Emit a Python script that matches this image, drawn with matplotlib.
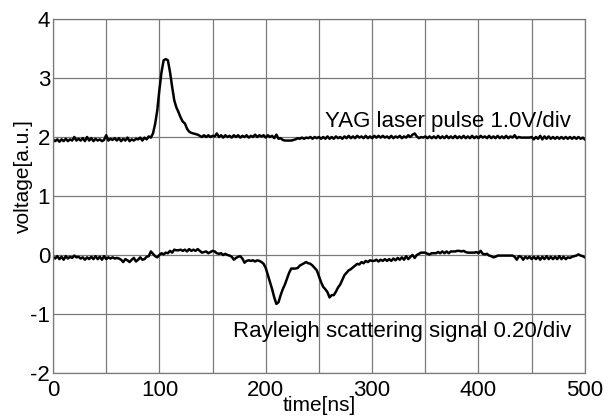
import numpy as np
import matplotlib
matplotlib.use("Agg")
import matplotlib.pyplot as plt
from matplotlib.ticker import MultipleLocator

plt.rcParams['font.family'] = ['Liberation Sans', 'DejaVu Sans']
plt.rcParams['axes.unicode_minus'] = False

# time axis in ns, sampled every 2 ns
t_start, t_stop, t_step = 0, 500, 2

# YAG laser pulse trace (offset +2)
yag = [
    1.96, 1.93, 1.96, 1.92, 1.96, 1.93, 1.97, 1.93, 1.96, 1.94,  # 0-18
    2.00, 1.94, 1.97, 1.94, 1.98, 1.93, 2.00, 1.94, 1.98, 1.93,  # 20-38
    1.97, 1.94, 1.96, 1.93, 1.95, 2.03, 1.94, 1.97, 1.95, 1.98,  # 40-58
    1.94, 1.98, 1.93, 1.97, 1.94, 1.99, 1.93, 1.96, 1.94, 1.97,  # 60-78
    1.96, 1.99, 1.94, 1.99, 1.96, 2.01, 1.99, 2.06, 2.22, 2.45,  # 80-98
    2.80, 3.10, 3.30, 3.32, 3.30, 3.10, 2.85, 2.62, 2.50, 2.42,  # 100-118
    2.33, 2.26, 2.23, 2.14, 2.09, 2.07, 2.06, 2.05, 2.04, 2.02,  # 120-138
    2.00, 2.03, 2.00, 2.03, 2.00, 2.02, 2.01, 2.06, 2.00, 2.03,  # 140-158
    1.99, 2.03, 2.00, 2.02, 1.99, 2.03, 2.00, 2.03, 1.99, 2.02,  # 160-178
    2.00, 2.03, 1.99, 2.02, 2.00, 2.04, 2.00, 2.03, 2.01, 2.03,  # 180-198
    1.99, 2.03, 2.00, 2.02, 1.98, 2.04, 1.97, 1.98, 1.95, 1.94,  # 200-218
    1.94, 1.94, 1.94, 1.95, 1.96, 1.98, 1.97, 1.99, 1.97, 1.99,  # 220-238
    1.98, 2.00, 1.97, 2.00, 1.98, 2.00, 1.97, 2.00, 1.97, 2.01,  # 240-258
    1.97, 2.00, 1.97, 2.01, 1.98, 2.00, 1.97, 2.01, 1.98, 2.02,  # 260-278
    1.98, 2.01, 1.98, 2.02, 1.99, 2.01, 1.98, 2.02, 1.98, 2.01,  # 280-298
    1.98, 2.02, 1.99, 2.02, 1.99, 2.02, 1.99, 2.01, 1.98, 2.02,  # 300-318
    1.98, 2.01, 1.99, 2.02, 1.98, 2.01, 1.99, 2.03, 2.00, 2.04,  # 320-338
    2.06, 2.01, 1.98, 2.00, 1.99, 2.01, 1.98, 2.01, 1.98, 2.01,  # 340-358
    1.98, 2.02, 1.98, 2.01, 1.98, 2.02, 1.98, 2.01, 1.98, 2.02,  # 360-378
    1.98, 2.01, 1.98, 2.02, 1.98, 2.01, 1.98, 2.02, 1.98, 2.01,  # 380-398
    1.98, 2.02, 1.99, 2.01, 1.98, 2.02, 1.98, 2.01, 1.98, 2.02,  # 400-418
    1.98, 2.01, 1.98, 2.02, 1.98, 2.01, 1.99, 2.03, 1.98, 2.00,  # 420-438
    1.99, 1.99, 1.99, 1.99, 1.99, 2.00, 1.96, 2.00, 1.97, 2.02,  # 440-458
    1.96, 2.01, 1.97, 2.01, 1.97, 2.00, 1.97, 2.00, 1.97, 2.00,  # 460-478
    1.97, 2.00, 1.97, 2.00, 1.97, 2.00, 1.97, 2.00, 1.97, 1.99,  # 480-498
    1.96,                                                        # 500
]

# Rayleigh scattering trace
rayleigh = [
    -0.03, -0.06, -0.02, -0.07, -0.03, -0.08, -0.02, -0.06, -0.03, -0.05,  # 0-18
    -0.01, -0.04, -0.03, -0.06, -0.04, -0.08, -0.04, -0.07, -0.03, -0.07,  # 20-38
    -0.02, -0.07, -0.03, -0.08, -0.02, -0.07, -0.04, -0.06, -0.04, -0.06,  # 40-58
    -0.05, -0.06, -0.08, -0.12, -0.07, -0.09, -0.12, -0.08, -0.05, -0.11,  # 60-78
    -0.08, -0.04, -0.08, -0.07, -0.03, -0.02, 0.06, 0.02, -0.02, -0.04,    # 80-98
    0.00, 0.03, 0.01, 0.04, 0.03, 0.07, 0.04, 0.09, 0.08, 0.08,            # 100-118
    0.09, 0.07, 0.09, 0.06, 0.10, 0.07, 0.09, 0.07, 0.10, 0.07,            # 120-138
    0.04, 0.05, 0.06, 0.03, 0.05, 0.07, 0.06, 0.03, 0.02, 0.03,            # 140-158
    0.00, 0.02, 0.00, -0.01, -0.03, -0.08, -0.05, -0.03, -0.02, -0.06,     # 160-178
    -0.13, -0.10, -0.09, -0.10, -0.09, -0.11, -0.09, -0.10, -0.12, -0.15,  # 180-198
    -0.22, -0.34, -0.46, -0.58, -0.72, -0.83, -0.80, -0.68, -0.58, -0.50,  # 200-218
    -0.40, -0.30, -0.23, -0.23, -0.23, -0.22, -0.18, -0.16, -0.14, -0.12,  # 220-238
    -0.14, -0.15, -0.18, -0.22, -0.26, -0.36, -0.46, -0.54, -0.58, -0.63,  # 240-258
    -0.72, -0.68, -0.68, -0.62, -0.55, -0.50, -0.42, -0.34, -0.30, -0.26,  # 260-278
    -0.24, -0.21, -0.18, -0.15, -0.16, -0.12, -0.14, -0.10, -0.12, -0.09,  # 280-298
    -0.10, -0.10, -0.08, -0.11, -0.08, -0.10, -0.07, -0.10, -0.07, -0.10,  # 300-318
    -0.06, -0.09, -0.05, -0.08, -0.04, -0.08, -0.02, -0.07, -0.03, 0.00,   # 320-338
    -0.05, 0.00, 0.02, 0.04, 0.04, 0.04, 0.02, 0.01, 0.03, 0.03,           # 340-358
    0.03, 0.05, 0.03, 0.06, 0.03, 0.06, 0.03, 0.06, 0.06, 0.06,            # 360-378
    0.07, 0.07, 0.06, 0.07, 0.05, 0.04, 0.04, 0.04, 0.04, 0.05,            # 380-398
    0.03, 0.07, 0.02, 0.01, 0.02, -0.01, -0.02, -0.04, -0.03, -0.01,       # 400-418
    -0.01, -0.01, -0.01, -0.01, -0.01, -0.01, -0.01, -0.03, -0.08, -0.02,  # 420-438
    -0.03, -0.08, -0.03, -0.06, -0.03, -0.07, -0.03, -0.07, -0.03, -0.08,  # 440-458
    -0.03, -0.07, -0.02, -0.07, -0.03, -0.07, -0.03, -0.07, -0.02, -0.07,  # 460-478
    -0.03, -0.07, -0.04, -0.05, -0.03, -0.02, -0.01, 0.01, -0.01, -0.02,   # 480-498
    -0.04,                                                                 # 500
]

t = np.arange(t_start, t_stop + t_step, t_step)

fig = plt.figure(figsize=(6.15, 4.18), dpi=100)
ax = fig.add_axes([0.0862, 0.1077, 0.8648, 0.8468])

ax.plot(t, yag, color='black', lw=1.8)
ax.plot(t, rayleigh, color='black', lw=1.8)

ax.set_xlim(0, 500)
ax.set_ylim(-2, 4)
ax.xaxis.set_major_locator(MultipleLocator(100))
ax.xaxis.set_minor_locator(MultipleLocator(50))
ax.yaxis.set_major_locator(MultipleLocator(1))
ax.grid(True, which='both', color='#7a7a7a', lw=0.9)
ax.set_axisbelow(True)
for s in ax.spines.values():
    s.set_color('#7a7a7a')
    s.set_linewidth(0.9)
ax.tick_params(which='both', length=0, labelsize=16)
ax.tick_params(axis='x', pad=5)
ax.tick_params(axis='y', pad=2)

ax.text(256, 2.17, 'YAG laser pulse 1.0V/div', fontsize=16, ha='left', va='baseline')
ax.text(169, -1.39, 'Rayleigh scattering signal 0.20/div', fontsize=16, ha='left', va='baseline')

ax.set_xlabel('time[ns]', fontsize=15)
ax.xaxis.set_label_coords(0.5, -0.066)
ax.set_ylabel('voltage[a.u.]', fontsize=15)
ax.yaxis.set_label_coords(-0.038, 0.556)

fig.savefig('out.png', dpi=100)
